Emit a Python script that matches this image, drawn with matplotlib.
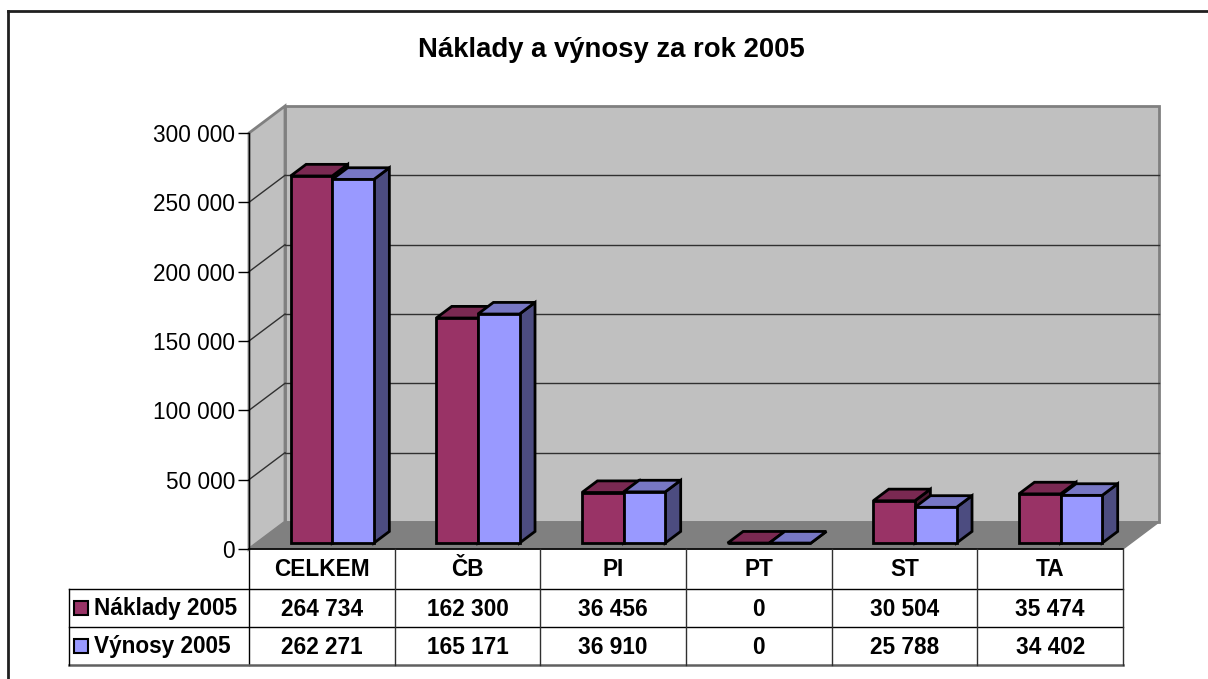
import matplotlib
matplotlib.use("Agg")
import matplotlib.pyplot as plt
from matplotlib.patches import Polygon, Rectangle
from matplotlib.lines import Line2D
import matplotlib.transforms as mtransforms

plt.rcParams['font.family'] = ['Liberation Sans', 'DejaVu Sans']

# ---------------- data ----------------
title = "Náklady a výnosy za rok 2005"
categories = ["CELKEM", "ČB", "PI", "PT", "ST", "TA"]
series_names = ["Náklady 2005", "Výnosy 2005"]
naklady = [264734, 162300, 36456, 0, 30504, 35474]
vynosy = [262271, 165171, 36910, 0, 25788, 34402]
yticks = [0, 50000, 100000, 150000, 200000, 250000, 300000]

# ---------------- styles ----------------
W, H = 1208, 679
front_colors = ["#993366", "#9999FF"]
top_colors = ["#7A2952", "#7777C4"]
side_colors = ["#4D1A33", "#4C4C80"]
wall_color = "#C0C0C0"
floor_color = "#808080"
FS = 16.3
TITLE_FS = 19.8

# plot area in pixels
PX_L, PX_R, PX_T, PX_B = 249, 1123, 133, 549
DEPTH_PX = (36, 27)  # depth offset (right, up) in pixels
BAR_FRONT, BAR_BACK = 0.22, 0.65   # depth fractions of bars
GAP = 1.5  # gap width relative to bar width
BAR_SHIFT_PX = 2.5

fig = plt.figure(figsize=(W / 100, H / 100), dpi=100)
fig.patch.set_facecolor("white")

# overlay axes in pixel coords
ov = fig.add_axes([0, 0, 1, 1])
ov.set_xlim(0, W)
ov.set_ylim(H, 0)
ov.axis("off")
ov.set_zorder(0)

ax = fig.add_axes([PX_L / W, (H - PX_B) / H, (PX_R - PX_L) / W, (PX_B - PX_T) / H])
ax.set_zorder(1)
ax.patch.set_alpha(0)
ncat = len(categories)
ymax = yticks[-1]
ax.set_xlim(0, ncat)
ax.set_ylim(0, ymax)

px_per_x = (PX_R - PX_L) / ncat
px_per_y = (PX_B - PX_T) / ymax
DX = DEPTH_PX[0] / px_per_x
DY = DEPTH_PX[1] / px_per_y
SHIFT = BAR_SHIFT_PX / px_per_x

# back wall, side wall, floor
back_wall = Polygon([(DX, DY), (ncat + DX, DY), (ncat + DX, ymax + DY), (DX, ymax + DY)],
                    closed=True, facecolor=wall_color, edgecolor="#808080", lw=2,
                    clip_on=False, zorder=1)
ax.add_patch(back_wall)
side_wall = Polygon([(0, 0), (DX, DY), (DX, ymax + DY), (0, ymax)], closed=True,
                    facecolor=wall_color, edgecolor="#808080", lw=2, clip_on=False, zorder=1)
ax.add_patch(side_wall)
floor = Polygon([(0, 0), (ncat, 0), (ncat + DX, DY), (DX, DY)], closed=True,
                facecolor=floor_color, edgecolor="#808080", lw=1, clip_on=False, zorder=1.2)
ax.add_patch(floor)

# gridlines
for t in yticks[1:-1]:
    ax.add_line(Line2D([DX, ncat + DX], [t + DY, t + DY], color="#303030", lw=1,
                       clip_on=False, zorder=1.5))
    ax.add_line(Line2D([0, DX], [t, t + DY], color="#303030", lw=1,
                       clip_on=False, zorder=1.5))
ax.add_line(Line2D([0, ncat], [0, 0], color="black", lw=1.2, clip_on=False, zorder=1.6))

# bars
bw = 1.0 / (2 + GAP)
zf, zb = BAR_FRONT, BAR_BACK
order = 3
for i in range(ncat):
    for s, vals in enumerate([naklady, vynosy]):
        v = vals[i]
        x0 = i + GAP * bw / 2 + s * bw + SHIFT
        x1 = x0 + bw
        fx0, fx1 = x0 + zf * DX, x1 + zf * DX
        fy0 = zf * DY
        bx0, bx1 = x0 + zb * DX, x1 + zb * DX
        by0 = zb * DY
        side = Polygon([(fx1, fy0), (bx1, by0), (bx1, by0 + v), (fx1, fy0 + v)],
                       facecolor=side_colors[s], edgecolor="black", lw=2,
                       joinstyle="miter", clip_on=False, zorder=order)
        top = Polygon([(fx0, fy0 + v), (fx1, fy0 + v), (bx1, by0 + v), (bx0, by0 + v)],
                      facecolor=top_colors[s], edgecolor="black", lw=2,
                      joinstyle="miter", clip_on=False, zorder=order + 0.1)
        front = Polygon([(fx0, fy0), (fx1, fy0), (fx1, fy0 + v), (fx0, fy0 + v)],
                        facecolor=front_colors[s], edgecolor="black", lw=2,
                        joinstyle="miter", clip_on=False, zorder=order + 0.2)
        for p in (side, top, front):
            ax.add_patch(p)
        order += 1

# axis
for sp in ["top", "right", "bottom"]:
    ax.spines[sp].set_visible(False)
ax.spines["left"].set_color("black")
ax.spines["left"].set_linewidth(1)
ax.set_xticks([])
ax.set_yticks(yticks)
ax.set_yticklabels([f"{t:,}".replace(",", " ") for t in yticks])
ax.tick_params(axis="y", direction="out", length=8, width=1, colors="black",
               labelsize=FS, pad=2)

# title
ov.text(611, 50, title, ha="center", va="center", fontsize=TITLE_FS, fontweight="bold")

# figure border
ov.add_line(Line2D([8, 8], [11, H], color="#202020", lw=2))
ov.add_line(Line2D([8, W], [11, 11], color="#202020", lw=2))

# data table
trans = mtransforms.blended_transform_factory(ax.transData, ov.transData)
row_tops = [549, 589, 627, 665]
leg_left = 69
lc = "black"
ov.add_line(Line2D([PX_L, PX_L], [row_tops[0], row_tops[-1]], color=lc, lw=1))
for i in range(1, ncat + 1):
    ax.add_line(Line2D([i, i], [row_tops[0], row_tops[-1]], transform=trans,
                       color="#303030", lw=1, clip_on=False))
ov.add_line(Line2D([leg_left, PX_R], [row_tops[1], row_tops[1]], color=lc, lw=1))
ov.add_line(Line2D([leg_left, PX_R], [row_tops[2], row_tops[2]], color=lc, lw=1))
ov.add_line(Line2D([leg_left, PX_R], [row_tops[3], row_tops[3]], color="#606060", lw=1.8))
ov.add_line(Line2D([leg_left, leg_left], [row_tops[1], row_tops[3]], color=lc, lw=1))

row_c = [(row_tops[k] + row_tops[k + 1]) / 2 for k in range(3)]
for i, c in enumerate(categories):
    ax.text(i + 0.5, row_c[0] + 1, c, transform=trans, ha="center", va="center",
            fontsize=FS, fontweight="bold")
    for r, vals in enumerate([naklady, vynosy]):
        ax.text(i + 0.5, row_c[r + 1] + 1, f"{vals[i]:,}".replace(",", " "), transform=trans,
                ha="center", va="center", fontsize=FS, fontweight="bold")

for r, name in enumerate(series_names):
    yc = row_c[r + 1]
    ov.add_patch(Rectangle((74, yc - 7), 14, 14, facecolor=front_colors[r],
                           edgecolor="black", lw=1.5))
    ov.text(94, yc + 1, name, ha="left", va="center", fontsize=FS, fontweight="bold")

fig.savefig("out.png", dpi=100, facecolor="white")
